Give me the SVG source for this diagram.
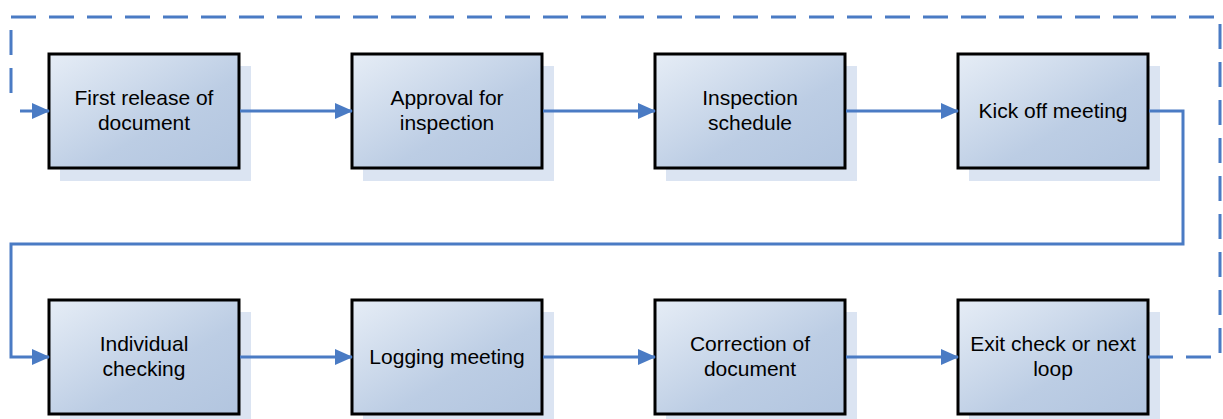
<svg xmlns="http://www.w3.org/2000/svg" width="1223" height="419" viewBox="0 0 1223 419">
<style>
.shadow{fill:#dbe4f2;}
.box{fill:url(#g);stroke:#000;stroke-width:3;}
.t{font-family:"Liberation Sans",Arial,sans-serif;font-size:21px;fill:#000;text-anchor:middle;}
.c{fill:none;stroke:#4a7bc4;stroke-width:3;}
.d{fill:none;stroke:#4a7bc4;stroke-width:3;stroke-dasharray:25 13;}
</style>
<defs>
<linearGradient id="g" x1="0" y1="0" x2="1" y2="1">
<stop offset="0" stop-color="#e6edf6"/>
<stop offset="0.6" stop-color="#bccde4"/>
<stop offset="1" stop-color="#b2c5df"/>
</linearGradient>
<marker id="a" markerWidth="18" markerHeight="18" refX="17" refY="9" orient="auto" markerUnits="userSpaceOnUse">
<path d="M0,1 L18,9 L0,17 Z" fill="#4a7bc4"/>
</marker>
</defs>
<rect width="1223" height="419" fill="#fff"/>
<g id="n1"><rect class="shadow" x="60" y="66" width="191" height="115"/><rect class="box" x="49" y="54" width="190" height="114"/><text class="t" x="144" y="105">First release of</text><text class="t" x="144" y="130">document</text></g>
<g id="n2"><rect class="shadow" x="363" y="66" width="191" height="115"/><rect class="box" x="352" y="54" width="190" height="114"/><text class="t" x="447" y="105">Approval for</text><text class="t" x="447" y="130">inspection</text></g>
<g id="n3"><rect class="shadow" x="666" y="66" width="191" height="115"/><rect class="box" x="655" y="54" width="190" height="114"/><text class="t" x="750" y="105">Inspection</text><text class="t" x="750" y="130">schedule</text></g>
<g id="n4"><rect class="shadow" x="969" y="66" width="191" height="115"/><rect class="box" x="958" y="54" width="190" height="114"/><text class="t" x="1053" y="118">Kick off meeting</text></g>
<g id="n5"><rect class="shadow" x="60" y="312" width="191" height="115"/><rect class="box" x="49" y="300" width="190" height="114"/><text class="t" x="144" y="351">Individual</text><text class="t" x="144" y="376">checking</text></g>
<g id="n6"><rect class="shadow" x="363" y="312" width="191" height="115"/><rect class="box" x="352" y="300" width="190" height="114"/><text class="t" x="447" y="364">Logging meeting</text></g>
<g id="n7"><rect class="shadow" x="666" y="312" width="191" height="115"/><rect class="box" x="655" y="300" width="190" height="114"/><text class="t" x="750" y="351">Correction of</text><text class="t" x="750" y="376">document</text></g>
<g id="n8"><rect class="shadow" x="969" y="312" width="191" height="115"/><rect class="box" x="958" y="300" width="190" height="114"/><text class="t" x="1053" y="351">Exit check or next</text><text class="t" x="1053" y="376">loop</text></g>
<g id="connectors">
<path class="d" d="M1148,357 L1220,357 L1220,17 L11,17 L11,105"/>
<path class="c" d="M20,111 L49,111" marker-end="url(#a)"/>
<path class="c" d="M240,111 L352,111" marker-end="url(#a)"/>
<path class="c" d="M543,111 L655,111" marker-end="url(#a)"/>
<path class="c" d="M846,111 L958,111" marker-end="url(#a)"/>
<path class="c" d="M1149,111 L1183,111 L1183,244 L11,244 L11,357 L49,357" marker-end="url(#a)"/>
<path class="c" d="M240,357 L352,357" marker-end="url(#a)"/>
<path class="c" d="M543,357 L655,357" marker-end="url(#a)"/>
<path class="c" d="M846,357 L958,357" marker-end="url(#a)"/>
</g>
</svg>
